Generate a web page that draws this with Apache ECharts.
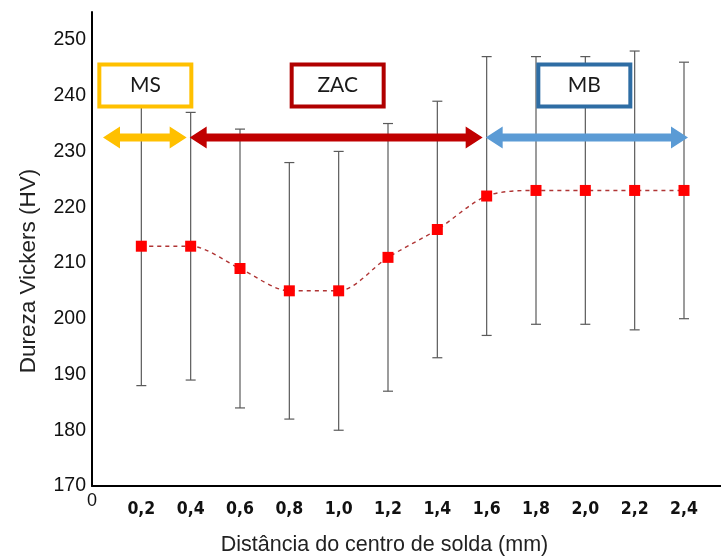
<!DOCTYPE html>
<html>
<head>
<meta charset="utf-8">
<script src="https://cdn.jsdelivr.net/npm/echarts@6/dist/echarts.min.js"></script>
<style>html,body{margin:0;padding:0;background:#fff;}#c{width:721px;height:558px;}</style>
</head>
<body>
<div id="c"></div>
<script>
// ---- data ----
const distances = [0.2, 0.4, 0.6, 0.8, 1.0, 1.2, 1.4, 1.6, 1.8, 2.0, 2.2, 2.4];
const hardness  = [213, 213, 209, 205, 205, 211, 216, 222, 223, 223, 223, 223];
const errLow    = [188, 189, 184, 182, 180, 187, 193, 197, 199, 199, 198, 200];
const errHigh   = [238, 237, 234, 228, 230, 235, 239, 247, 247, 247, 248, 246];
const zoneNames = ['MS', 'ZAC', 'MB'];
const zoneStart = [0, 0.4, 1.6];
const zoneEnd   = [0.4, 1.6, 2.4];
const yTicks    = [170, 180, 190, 200, 210, 220, 230, 240, 250];
const xTicks    = [0, 0.2, 0.4, 0.6, 0.8, 1.0, 1.2, 1.4, 1.6, 1.8, 2.0, 2.2, 2.4];

const zoneArrowColor = ['#FFC000', '#C00000', '#5B9BD5'];
const zoneBoxColor   = ['#FFC000', '#B00000', '#2E6DA4'];
const arrowLevel = 232.5;

const chart = echarts.init(document.getElementById('c'), null, {renderer: 'canvas'});

function arrowPoints(x0, x1, y) {
  const t = 4, hl = 17, hh = 11;
  return [
    [x0, y], [x0 + hl, y - hh], [x0 + hl, y - t], [x1 - hl, y - t], [x1 - hl, y - hh],
    [x1, y], [x1 - hl, y + hh], [x1 - hl, y + t], [x0 + hl, y + t], [x0 + hl, y + hh]
  ];
}

const option = {
  animation: false,
  backgroundColor: '#ffffff',
  grid: {left: 92, right: 0, top: 12, bottom: 72, containLabel: false, outerBoundsMode: 'none'},
  xAxis: {
    type: 'value', min: 0, max: 2.55, interval: 0.2,
    name: 'Distância do centro de solda (mm)',
    nameLocation: 'middle', nameGap: 48,
    nameTextStyle: {fontFamily: 'Liberation Sans, Arial, sans-serif', fontSize: 21.5, color: '#222', padding: [0, 44, 0, 0]},
    axisLine: {show: true, onZero: false, lineStyle: {color: '#000', width: 2}},
    axisTick: {show: false},
    splitLine: {show: false},
    axisLabel: {
      margin: 6,
      formatter: function (v) {
        const r = Math.round(v * 10) / 10;
        if (!xTicks.some(t => Math.abs(t - r) < 1e-6) || Math.abs(v - r) > 1e-6) return '';
        if (r === 0) return '{z|0}';
        return '{b|' + r.toFixed(1).replace('.', ',') + '}';
      },
      rich: {
        z: {fontFamily: 'Liberation Sans, Arial, sans-serif', fontSize: 18, color: '#111'},
        b: {fontFamily: 'Liberation Sans Narrow, DejaVu Sans Condensed, Arial, sans-serif', fontWeight: 'bold', fontSize: 17.5, color: '#111', padding: [8, 0, 0, 0]}
      }
    }
  },
  yAxis: {
    type: 'value', min: 170, max: 255, interval: 10,
    name: 'Dureza Vickers (HV)',
    nameLocation: 'middle', nameGap: 52,
    nameTextStyle: {fontFamily: 'Liberation Sans, Arial, sans-serif', fontSize: 22.5, color: '#222', padding: [0, 44, 0, 0]},
    axisLine: {show: true, lineStyle: {color: '#000', width: 2}},
    axisTick: {show: false},
    splitLine: {show: false},
    axisLabel: {
      margin: 6,
      fontFamily: 'Liberation Sans, Arial, sans-serif', fontSize: 19.5, color: '#111',
      formatter: function (v) { return yTicks.indexOf(v) >= 0 ? String(v) : ''; }
    }
  },
  series: [
    {
      type: 'custom',
      name: 'erro',
      z: 2,
      data: distances.map((d, i) => [d, errLow[i], errHigh[i]]),
      renderItem: function (params, api) {
        const lo = api.coord([api.value(0), api.value(1)]);
        const hi = api.coord([api.value(0), api.value(2)]);
        const w = 5;
        const st = {stroke: '#5a5a5a', lineWidth: 1.2};
        return {
          type: 'group',
          children: [
            {type: 'line', shape: {x1: lo[0], y1: lo[1], x2: hi[0], y2: hi[1]}, style: st},
            {type: 'line', shape: {x1: lo[0] - w, y1: lo[1], x2: lo[0] + w, y2: lo[1]}, style: st},
            {type: 'line', shape: {x1: hi[0] - w, y1: hi[1], x2: hi[0] + w, y2: hi[1]}, style: st}
          ]
        };
      }
    },
    {
      type: 'custom',
      name: 'zonas',
      z: 3,
      clip: false,
      data: zoneNames.map((n, i) => [zoneStart[i], zoneEnd[i], i]),
      renderItem: function (params, api) {
        const i = api.value(2);
        const a = api.coord([api.value(0), arrowLevel]);
        const b = api.coord([api.value(1), arrowLevel]);
        const x0 = a[0] + (i === 0 ? 11 : -1);
        const x1 = b[0] + (i === 2 ? 4 : -4);
        const y = a[1];
        const cx = (a[0] + b[0]) / 2 + (i === 0 ? 4 : -1);
        const bw = 92, bh = 42, by = y - 52;
        return {
          type: 'group',
          children: [
            {type: 'polygon', shape: {points: arrowPoints(x0, x1, y)}, style: {fill: zoneArrowColor[i]}},
            {type: 'rect', shape: {x: cx - bw / 2, y: by - bh / 2, width: bw, height: bh},
             style: {fill: '#fff', stroke: zoneBoxColor[i], lineWidth: 4}},
            {type: 'text', x: cx, y: by,
             style: {text: zoneNames[i], fill: '#1a1a1a', fontSize: 21, fontFamily: 'Lato, Open Sans, sans-serif',
                     align: 'center', verticalAlign: 'middle'}}
          ]
        };
      }
    },
    {
      type: 'line',
      name: 'HV',
      z: 4,
      data: distances.map((d, i) => [d, hardness[i]]),
      smooth: 0.3,
      symbol: 'rect',
      symbolSize: 11,
      itemStyle: {color: '#FF0000'},
      lineStyle: {color: '#B03535', width: 1.4, type: [4, 4]}
    }
  ]
};
chart.setOption(option);
</script>
</body>
</html>
